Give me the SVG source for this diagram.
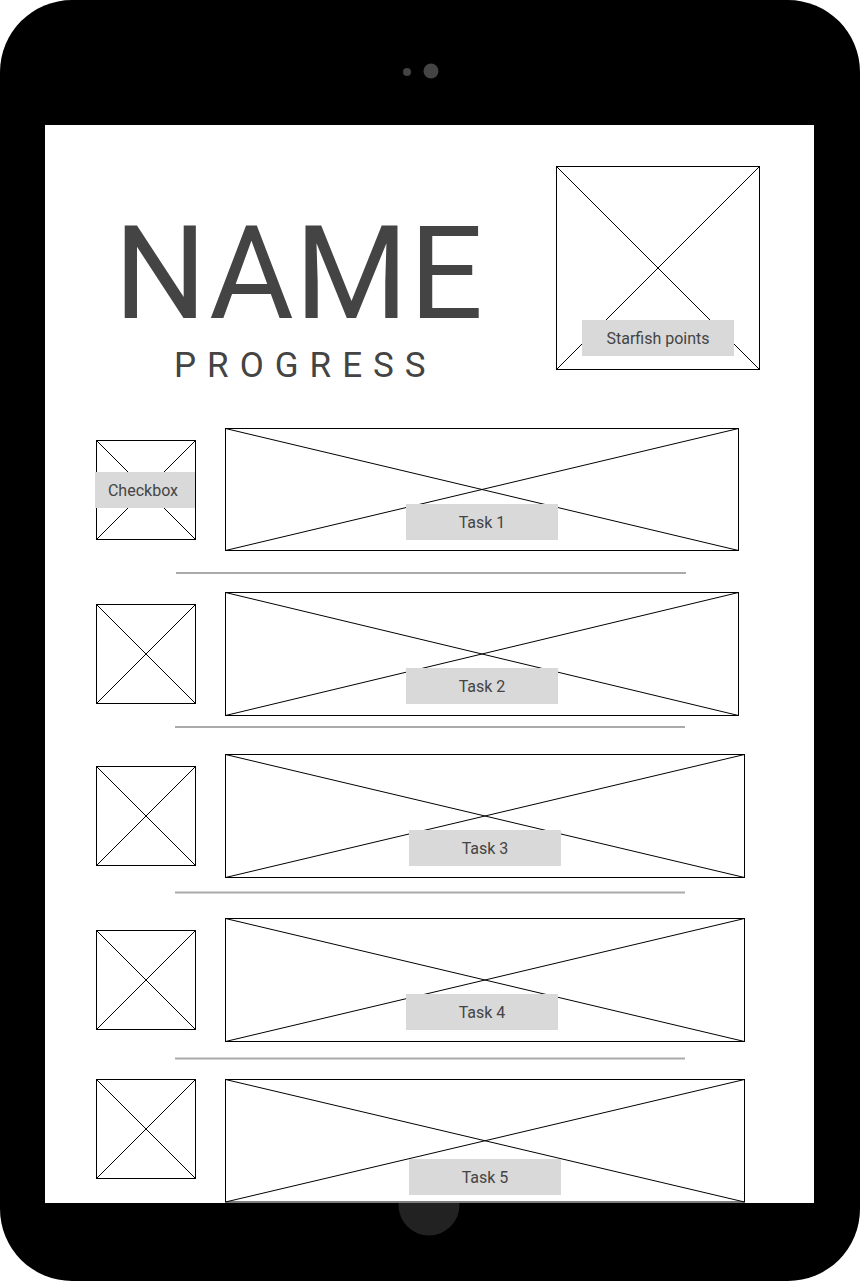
<svg xmlns="http://www.w3.org/2000/svg" width="860" height="1281" viewBox="0 0 860 1281">
<style>
.box{fill:#fff;stroke:#000;stroke-width:1}
.x{stroke:#000;stroke-width:1;fill:none}
.lab{fill:#d9d9d9}
.lt{font-family:Roboto,"Liberation Sans",sans-serif;font-size:16px;fill:#444;text-anchor:middle;dominant-baseline:central}
.sep{stroke:#aaa;stroke-width:2}
</style>
<g id="device">
<rect x="0" y="0" width="860" height="1281" rx="72" ry="72" fill="#000"/>
<circle cx="407" cy="72" r="4" fill="#444"/>
<circle cx="431" cy="71" r="7.5" fill="#444"/>
<circle cx="429" cy="1205" r="30.5" fill="#222"/>
<rect x="45" y="125" width="769" height="1078" fill="#fff"/>
</g>
<g id="title">
<text x="114" y="318" font-family="Roboto,'Liberation Sans',sans-serif" font-size="130" fill="#444" letter-spacing="1">NAME</text>
<text x="174" y="377" font-family="Roboto,'Liberation Sans',sans-serif" font-size="35" fill="#444" letter-spacing="11">PROGRESS</text>
</g>
<g id="starfish">
<rect class="box" x="556.5" y="166.5" width="203" height="203"/>
<path class="x" d="M556.5 166.5L759.5 369.5M759.5 166.5L556.5 369.5"/>
<rect class="lab" x="582" y="320" width="152" height="36"/>
<text class="lt" x="658" y="338">Starfish points</text>
</g>
<g id="separators">
<line class="sep" x1="176" y1="573" x2="686" y2="573"/>
<line class="sep" x1="175" y1="727" x2="685" y2="727"/>
<line class="sep" x1="175" y1="892.5" x2="685" y2="892.5"/>
<line class="sep" x1="175" y1="1058.5" x2="685" y2="1058.5"/>
</g>
<g id="row1">
<rect class="box" x="96.5" y="440.5" width="99" height="99"/>
<path class="x" d="M96.5 440.5L195.5 539.5M195.5 440.5L96.5 539.5"/>
<rect class="lab" x="95" y="472" width="100" height="36"/>
<text class="lt" x="143" y="490">Checkbox</text>
<rect class="box" x="225.5" y="428.5" width="513" height="122"/>
<path class="x" d="M225.5 428.5L738.5 550.5M738.5 428.5L225.5 550.5"/>
<rect class="lab" x="406" y="504" width="152" height="36"/>
<text class="lt" x="482" y="522">Task 1</text>
</g>
<g id="row2">
<rect class="box" x="96.5" y="604.5" width="99" height="99"/>
<path class="x" d="M96.5 604.5L195.5 703.5M195.5 604.5L96.5 703.5"/>
<rect class="box" x="225.5" y="592.5" width="513" height="123"/>
<path class="x" d="M225.5 592.5L738.5 715.5M738.5 592.5L225.5 715.5"/>
<rect class="lab" x="406" y="668" width="152" height="36"/>
<text class="lt" x="482" y="686">Task 2</text>
</g>
<g id="row3">
<rect class="box" x="96.5" y="766.5" width="99" height="99"/>
<path class="x" d="M96.5 766.5L195.5 865.5M195.5 766.5L96.5 865.5"/>
<rect class="box" x="225.5" y="754.5" width="519" height="123"/>
<path class="x" d="M225.5 754.5L744.5 877.5M744.5 754.5L225.5 877.5"/>
<rect class="lab" x="409" y="830" width="152" height="36"/>
<text class="lt" x="485" y="848">Task 3</text>
</g>
<g id="row4">
<rect class="box" x="96.5" y="930.5" width="99" height="99"/>
<path class="x" d="M96.5 930.5L195.5 1029.5M195.5 930.5L96.5 1029.5"/>
<rect class="box" x="225.5" y="918.5" width="519" height="123"/>
<path class="x" d="M225.5 918.5L744.5 1041.5M744.5 918.5L225.5 1041.5"/>
<rect class="lab" x="406" y="994" width="152" height="36"/>
<text class="lt" x="482" y="1012">Task 4</text>
</g>
<g id="row5">
<rect class="box" x="96.5" y="1079.5" width="99" height="99"/>
<path class="x" d="M96.5 1079.5L195.5 1178.5M195.5 1079.5L96.5 1178.5"/>
<rect class="box" x="225.5" y="1079.5" width="519" height="122.5"/>
<path class="x" d="M225.5 1079.5L744.5 1202M744.5 1079.5L225.5 1202"/>
<rect class="lab" x="409" y="1159" width="152" height="36"/>
<text class="lt" x="485" y="1177">Task 5</text>
</g>
</svg>
